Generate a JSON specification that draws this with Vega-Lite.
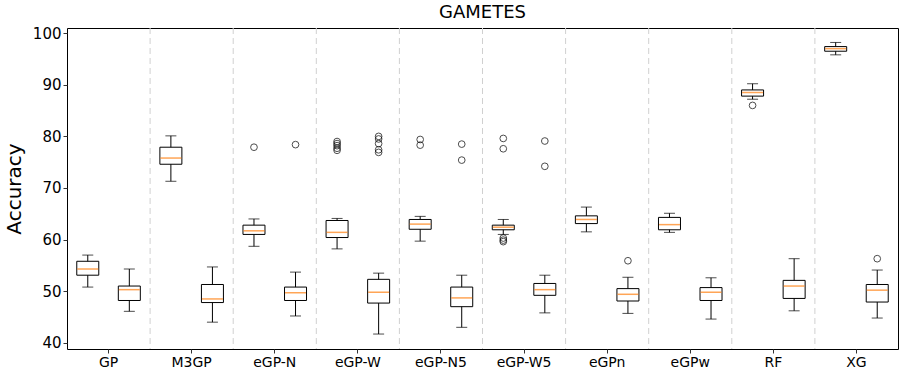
{
  "$schema": "https://vega.github.io/schema/vega-lite/v6.json",
  "width": 901,
  "height": 370,
  "autosize": {"type": "fit", "contains": "padding"},
  "padding": {"left": 4, "top": 4, "right": 3, "bottom": 1},
  "background": "white",
  "title": {"text": "GAMETES", "fontSize": 18, "fontWeight": "normal", "font": "DejaVu Sans", "color": "#000", "offset": 4},
  "config": {
    "view": {"stroke": "#000", "strokeWidth": 1},
    "font": "DejaVu Sans",
    "axis": {"domainColor": "#000", "tickColor": "#333", "labelColor": "#000", "titleColor": "#000", "grid": false, "labelFont": "DejaVu Sans", "titleFont": "DejaVu Sans"}
  },
  "datasets": {
    "boxes": [
      {"method": "GP", "set": "train", "lo": 50.8, "q1": 53.1, "med": 54.3, "q3": 55.8, "hi": 57.0},
      {"method": "GP", "set": "test", "lo": 46.1, "q1": 48.2, "med": 50.3, "q3": 51.0, "hi": 54.3},
      {"method": "M3GP", "set": "train", "lo": 71.3, "q1": 74.6, "med": 75.8, "q3": 77.9, "hi": 80.1},
      {"method": "M3GP", "set": "test", "lo": 44.0, "q1": 47.8, "med": 48.5, "q3": 51.3, "hi": 54.7},
      {"method": "eGP-N", "set": "train", "lo": 58.7, "q1": 61.0, "med": 61.7, "q3": 62.8, "hi": 64.0},
      {"method": "eGP-N", "set": "test", "lo": 45.2, "q1": 48.2, "med": 49.7, "q3": 50.8, "hi": 53.7},
      {"method": "eGP-W", "set": "train", "lo": 58.2, "q1": 60.4, "med": 61.4, "q3": 63.7, "hi": 64.1},
      {"method": "eGP-W", "set": "test", "lo": 41.7, "q1": 47.7, "med": 49.8, "q3": 52.3, "hi": 53.5},
      {"method": "eGP-N5", "set": "train", "lo": 59.7, "q1": 62.0, "med": 63.0, "q3": 63.9, "hi": 64.5},
      {"method": "eGP-N5", "set": "test", "lo": 43.0, "q1": 47.0, "med": 48.7, "q3": 50.8, "hi": 53.1},
      {"method": "eGP-W5", "set": "train", "lo": 61.0, "q1": 61.9, "med": 62.4, "q3": 62.8, "hi": 63.9},
      {"method": "eGP-W5", "set": "test", "lo": 45.8, "q1": 49.2, "med": 50.3, "q3": 51.5, "hi": 53.1},
      {"method": "eGPn", "set": "train", "lo": 61.5, "q1": 63.1, "med": 63.9, "q3": 64.6, "hi": 66.3},
      {"method": "eGPn", "set": "test", "lo": 45.7, "q1": 48.1, "med": 49.4, "q3": 50.5, "hi": 52.7},
      {"method": "eGPw", "set": "train", "lo": 61.4, "q1": 61.9, "med": 62.9, "q3": 64.3, "hi": 65.1},
      {"method": "eGPw", "set": "test", "lo": 44.6, "q1": 48.2, "med": 49.8, "q3": 50.7, "hi": 52.6},
      {"method": "RF", "set": "train", "lo": 87.2, "q1": 87.8, "med": 88.5, "q3": 89.0, "hi": 90.2},
      {"method": "RF", "set": "test", "lo": 46.2, "q1": 48.6, "med": 51.0, "q3": 52.1, "hi": 56.3},
      {"method": "XG", "set": "train", "lo": 95.8, "q1": 96.5, "med": 97.0, "q3": 97.4, "hi": 98.2},
      {"method": "XG", "set": "test", "lo": 44.8, "q1": 47.9, "med": 50.2, "q3": 51.3, "hi": 54.1}
    ],
    "outliers": [
      {"method": "eGP-N", "set": "train", "value": 77.9},
      {"method": "eGP-N", "set": "test", "value": 78.4},
      {"method": "eGP-W", "set": "train", "value": 79.0},
      {"method": "eGP-W", "set": "train", "value": 78.6},
      {"method": "eGP-W", "set": "train", "value": 78.2},
      {"method": "eGP-W", "set": "train", "value": 77.7},
      {"method": "eGP-W", "set": "train", "value": 77.3},
      {"method": "eGP-W", "set": "test", "value": 80.0},
      {"method": "eGP-W", "set": "test", "value": 79.5},
      {"method": "eGP-W", "set": "test", "value": 78.6},
      {"method": "eGP-W", "set": "test", "value": 77.4},
      {"method": "eGP-W", "set": "test", "value": 76.9},
      {"method": "eGP-N5", "set": "train", "value": 79.4},
      {"method": "eGP-N5", "set": "train", "value": 78.3},
      {"method": "eGP-N5", "set": "test", "value": 78.5},
      {"method": "eGP-N5", "set": "test", "value": 75.4},
      {"method": "eGP-W5", "set": "train", "value": 79.6},
      {"method": "eGP-W5", "set": "train", "value": 77.6},
      {"method": "eGP-W5", "set": "train", "value": 60.3},
      {"method": "eGP-W5", "set": "train", "value": 59.9},
      {"method": "eGP-W5", "set": "train", "value": 59.6},
      {"method": "eGP-W5", "set": "test", "value": 79.1},
      {"method": "eGP-W5", "set": "test", "value": 74.2},
      {"method": "eGPn", "set": "test", "value": 55.9},
      {"method": "RF", "set": "train", "value": 86.0},
      {"method": "XG", "set": "test", "value": 56.3}
    ]
  },
  "data": {"name": "boxes"},
  "encoding": {
    "x": {"field": "method", "type": "nominal",
      "sort": ["GP", "M3GP", "eGP-N", "eGP-W", "eGP-N5", "eGP-W5", "eGPn", "eGPw", "RF", "XG"],
      "scale": {"paddingInner": 0, "paddingOuter": 0},
      "axis": {"title": null, "labelAngle": 0, "labelFontSize": 14, "tickSize": 4, "labelPadding": 2, "domain": false}},
    "xOffset": {"field": "set", "type": "nominal", "sort": ["train", "test"], "scale": {"paddingInner": 0, "paddingOuter": 0}}
  },
  "layer": [
    {
      "transform": [{"filter": "datum.set == 'train' && datum.method != 'GP'"}],
      "mark": {"type": "rule", "color": "#d0d0d0", "strokeDash": [6, 4], "strokeWidth": 1},
      "encoding": {"x": {"field": "method", "type": "nominal", "bandPosition": 0, "sort": ["GP", "M3GP", "eGP-N", "eGP-W", "eGP-N5", "eGP-W5", "eGPn", "eGPw", "RF", "XG"]}, "xOffset": null}
    },
    {
      "mark": {"type": "rule", "color": "#000", "strokeWidth": 1},
      "encoding": {
        "y": {"field": "lo", "type": "quantitative",
          "scale": {"domain": [38.8, 101], "nice": false, "zero": false},
          "axis": {"title": "Accuracy", "titleFontSize": 20, "titleFontWeight": "normal", "labelFontSize": 15, "values": [40, 50, 60, 70, 80, 90, 100], "tickSize": 4, "titlePadding": 8, "domain": false}},
        "y2": {"field": "hi"}
      }
    },
    {
      "mark": {"type": "bar", "fill": "white", "stroke": "#000", "strokeWidth": 1, "size": 22},
      "encoding": {"y": {"field": "q1", "type": "quantitative"}, "y2": {"field": "q3"}}
    },
    {
      "mark": {"type": "tick", "color": "#ff7f0e", "size": 21, "thickness": 1.5},
      "encoding": {"y": {"field": "med", "type": "quantitative"}}
    },
    {
      "mark": {"type": "tick", "color": "#000", "size": 11, "thickness": 1},
      "encoding": {"y": {"field": "lo", "type": "quantitative"}}
    },
    {
      "mark": {"type": "tick", "color": "#000", "size": 11, "thickness": 1},
      "encoding": {"y": {"field": "hi", "type": "quantitative"}}
    },
    {
      "data": {"name": "outliers"},
      "mark": {"type": "point", "shape": "circle", "filled": false, "stroke": "#000", "strokeWidth": 1, "size": 45},
      "encoding": {"y": {"field": "value", "type": "quantitative"}}
    }
  ]
}
